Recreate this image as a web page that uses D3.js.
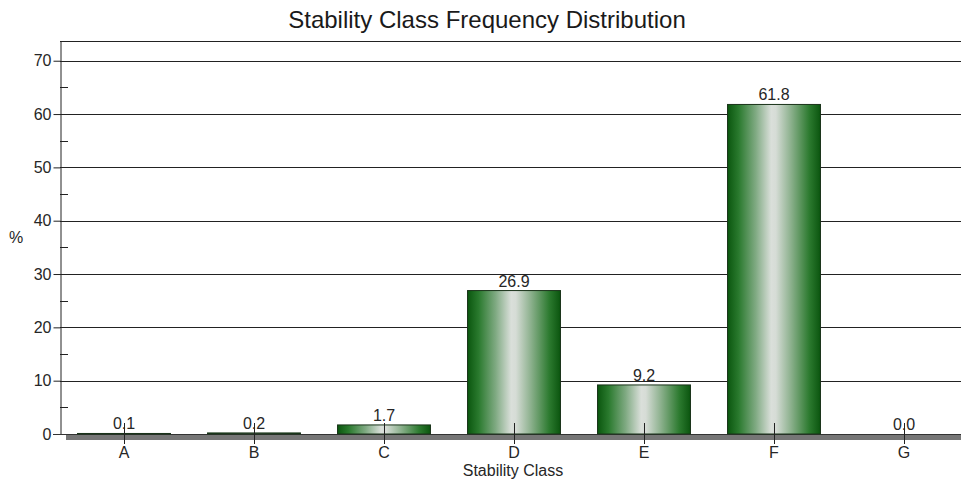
<!DOCTYPE html>
<html>
<head>
<meta charset="utf-8">
<script src="https://cdn.jsdelivr.net/npm/d3@7"></script>
<style>
  html, body { margin: 0; padding: 0; background: #fff; }
  svg { display: block; font-family: "Liberation Sans", Arial, sans-serif; }
</style>
</head>
<body>
<svg id="chart" width="961" height="481"></svg>
<script>
// Stability class frequency distribution (%)
const categories = ["A", "B", "C", "D", "E", "F", "G"];
const values = [0.1, 0.2, 1.7, 26.9, 9.2, 61.8, 0.0];
const yTicks = [0, 10, 20, 30, 40, 50, 60, 70];
const yMinorTicks = [5, 15, 25, 35, 45, 55, 65];

const svg = d3.select("#chart");
const W = 961, H = 481;
const plotLeft = 60, plotTop = 41, plotBottom = 434, plotRight = 969;
const textColor = "#262626";

const x = d3.scaleBand()
  .domain(categories)
  .range([59, plotRight])
  .paddingInner(0.285)
  .paddingOuter(0.1425);

const y = d3.scaleLinear().domain([0, 73.7]).range([plotBottom, plotTop]);

// Cylinder-like shading for the bars
const defs = svg.append("defs");
const grad = defs.append("linearGradient")
  .attr("id", "barShade").attr("x1", "0%").attr("x2", "100%").attr("y1", "0%").attr("y2", "0%");
[
  [0, "#0b560f"], [0.12, "#2a7a2e"], [0.3, "#7ea981"], [0.47, "#dadfda"],
  [0.52, "#d6dcd6"], [0.68, "#8db18e"], [0.88, "#2c7a2f"], [1, "#0b550f"]
].forEach(([o, c]) => grad.append("stop").attr("offset", o).attr("stop-color", c));

// Title
svg.append("text")
  .attr("x", 487).attr("y", 28)
  .attr("text-anchor", "middle")
  .attr("font-size", 24).attr("fill", "#1a1a1a")
  .text("Stability Class Frequency Distribution");

// Horizontal grid lines
svg.append("g").selectAll("line").data(yTicks.filter(d => d > 0)).join("line")
  .attr("x1", plotLeft).attr("x2", W)
  .attr("y1", d => Math.round(y(d)) + 0.5).attr("y2", d => Math.round(y(d)) + 0.5)
  .attr("stroke", "#222").attr("stroke-width", 1);

// Top frame line
svg.append("line")
  .attr("x1", plotLeft).attr("x2", W).attr("y1", plotTop + 0.5).attr("y2", plotTop + 0.5)
  .attr("stroke", "#222");

// Y axis with outward major ticks
const yAxis = d3.axisLeft(y).tickValues(yTicks).tickSize(7).tickPadding(2).tickSizeOuter(0);
const gy = svg.append("g").attr("transform", `translate(${plotLeft + 0.5},0)`).call(yAxis);
gy.select(".domain").attr("stroke", "#222");
gy.selectAll(".tick line").attr("stroke", "#222");
gy.selectAll(".tick text").attr("font-size", 16).attr("fill", textColor)
  .attr("font-family", "'Liberation Sans', Arial, sans-serif");

// Inward minor ticks
svg.append("g").selectAll("line").data(yMinorTicks).join("line")
  .attr("x1", plotLeft).attr("x2", plotLeft + 8)
  .attr("y1", d => Math.round(y(d)) + 0.5).attr("y2", d => Math.round(y(d)) + 0.5)
  .attr("stroke", "#222");

// Y axis title
svg.append("text")
  .attr("x", 16).attr("y", 243).attr("text-anchor", "middle")
  .attr("font-size", 16).attr("fill", textColor).text("%");

// Floor band under the bars
svg.append("rect")
  .attr("x", 66).attr("y", plotBottom + 1).attr("width", W - 66).attr("height", 5)
  .attr("fill", "#767676");
svg.append("line")
  .attr("x1", plotLeft - 7).attr("x2", W).attr("y1", plotBottom + 0.5).attr("y2", plotBottom + 0.5)
  .attr("stroke", "#333");

// Bars
svg.append("g").selectAll("rect").data(values).join("rect")
  .attr("x", (d, i) => x(categories[i]))
  .attr("y", d => y(d))
  .attr("width", x.bandwidth())
  .attr("height", d => plotBottom - y(d))
  .attr("fill", "url(#barShade)")
  .attr("stroke", d => d > 0 ? "#1a331a" : "none")
  .attr("stroke-width", 1);

// Category tick marks crossing the floor
svg.append("g").selectAll("line").data(categories).join("line")
  .attr("x1", d => Math.round(x(d) + x.bandwidth() / 2) + 0.5)
  .attr("x2", d => Math.round(x(d) + x.bandwidth() / 2) + 0.5)
  .attr("y1", plotBottom - 11).attr("y2", plotBottom + 10)
  .attr("stroke", "#222");

// Category labels
svg.append("g").selectAll("text").data(categories).join("text")
  .attr("x", d => x(d) + x.bandwidth() / 2)
  .attr("y", 458).attr("text-anchor", "middle")
  .attr("font-size", 16).attr("fill", textColor)
  .text(d => d);

// Value labels above the bars
svg.append("g").selectAll("text").data(values).join("text")
  .attr("x", (d, i) => x(categories[i]) + x.bandwidth() / 2)
  .attr("y", d => y(d) - 4).attr("text-anchor", "middle")
  .attr("font-size", 16).attr("fill", textColor)
  .text(d => d.toFixed(1));

// X axis title
svg.append("text")
  .attr("x", 513).attr("y", 476).attr("text-anchor", "middle")
  .attr("font-size", 16).attr("fill", textColor).text("Stability Class");
</script>
</body>
</html>
